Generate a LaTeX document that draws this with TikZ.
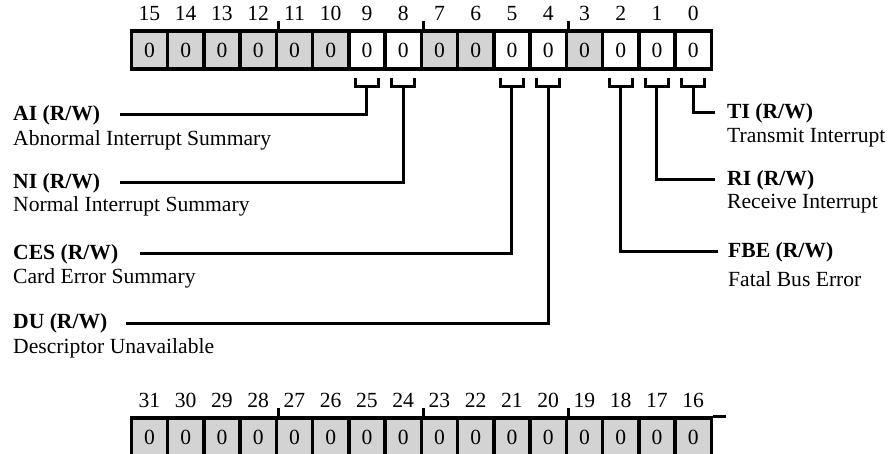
\documentclass[tikz,border=0pt]{standalone}
\usepackage{fontspec}
\setmainfont{Liberation Serif}
\usepackage{xcolor}
\definecolor{cellgray}{RGB}{211,211,211}
\usetikzlibrary{positioning, calc}
\tikzset{
    cell/.style={draw, line width=3.5pt, fill=cellgray, minimum width=36.25pt, minimum height=38pt, inner sep=0pt},
    wire/.style={line width=3pt},
    bitnum/.style={inner sep=0pt},
    title/.style={anchor=west, inner sep=0pt, font=\fontsize{21.6}{26}\selectfont\bfseries},
    desc/.style={anchor=west, inner sep=0pt}
}
\begin{document}
\begin{tikzpicture}[x=1pt, y=-1pt, font=\fontsize{21.6}{26}\selectfont]
    \useasboundingbox (0,0) rectangle (891,454);
    \foreach \b in {15,14,13,12,11,10,7,6,3}
        \node[cell] (t\b) at ({131.3+(15.5-\b)*36.25}, 50) {0};
    \foreach \b in {9,8,5,4,2,1,0}
        \node[cell, fill=white] (t\b) at ({131.3+(15.5-\b)*36.25}, 50) {0};
    \foreach \b in {0,...,15}
        \node[bitnum] at ([yshift=16pt]t\b.north) {\b};
    \foreach \b in {12,8,4}
        \draw[wire] (t\b.north east) -- ++(0pt,8pt);
    \foreach \b in {16,...,31} {
        \node[cell] (r\b) at ({131.3+(31.5-\b)*36.25}, 437) {0};
        \node[bitnum] at ([yshift=16pt]r\b.north) {\b};
    }
    \foreach \b in {28,24,20}
        \draw[wire] (r\b.north east) -- ++(0pt,8pt);
    \draw[line width=3.5pt] (r16.north east) -- ++(13pt,0pt);
    \foreach \b in {9,8,5,4,2,1,0} {
        \coordinate (k\b) at ([yshift=-16pt]t\b.south);
        \draw[wire] ([shift={(-11.5pt,9pt)}]k\b) -- ++(0pt,-9pt) -- ++(23pt,0pt) -- ++(0pt,9pt);
    }
    \node[title] (ai) at (13,115) {AI (R/W)};
    \node[desc] (aid) at (13,140) {Abnormal Interrupt Summary};
    \node[title] (ni) at (13,183) {NI (R/W)};
    \node[desc] (nid) at (13,206) {Normal Interrupt Summary};
    \node[title] (ces) at (13,254) {CES (R/W)};
    \node[desc] (cesd) at (13,278) {Card Error Summary};
    \node[title] (du) at (13,323) {DU (R/W)};
    \node[desc] (dud) at (13,348) {Descriptor Unavailable};
    \node[title] (ti) at (727,113) {TI (R/W)};
    \node[desc] (tid) at (727,138) {Transmit Interrupt};
    \node[title] (ri) at (727,180) {RI (R/W)};
    \node[desc] (rid) at (727,204) {Receive Interrupt};
    \node[title] (fbe) at (728,252) {FBE (R/W)};
    \node[desc] (fbed) at (728,279) {Fatal Bus Error};
    \draw[wire] ([xshift=20pt]ai.east) -| (k9);
    \draw[wire] ([xshift=20pt]ni.east) -| (k8);
    \draw[wire] ([xshift=22pt]ces.east) -| (k5);
    \draw[wire] ([xshift=18pt]du.east) -| (k4);
    \draw[wire] (k0) |- ([xshift=-12pt]ti.west);
    \draw[wire] (k1) |- ([xshift=-12pt]ri.west);
    \draw[wire] (k2) |- ([xshift=-10pt]fbe.west);
\end{tikzpicture}
\end{document}
